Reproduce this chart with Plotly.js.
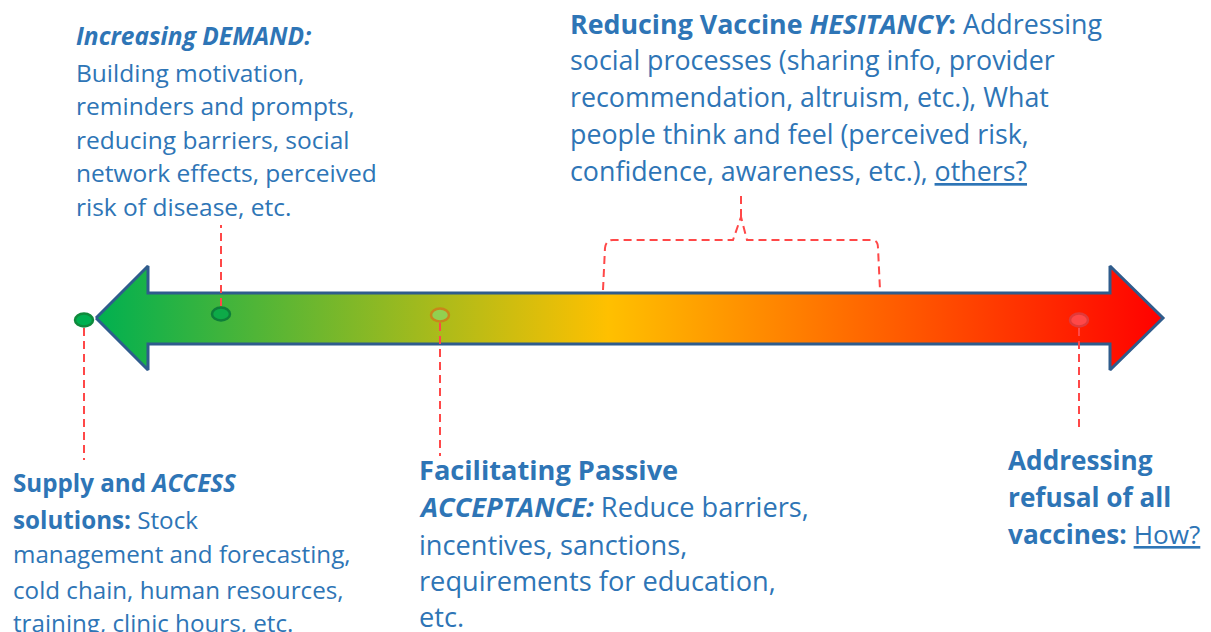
<!DOCTYPE html>
<html>
<head>
<meta charset="utf-8">
<script src="https://cdn.plot.ly/plotly-3.0.1.min.js"></script>
<style>html,body{margin:0;padding:0;background:#fff;}#chart{width:1211px;height:632px;}</style>
</head>
<body>
<div id="chart"></div>
<script>
// ---- Continuum arrow (pixel-space coordinates of the diagram) ----
var arrowX = [96, 148, 148, 1110, 1110, 1163, 1110, 1110, 148, 148, 96];
var arrowY = [318, 266, 293, 293, 266, 318, 370, 344, 344, 370, 318];
var gradientStops = [[0, '#00B050'], [0.48, '#FFC000'], [1, '#FF0000']];

// ---- Markers along the continuum ----
var dotX = [84, 221, 440, 1079];
var dotY = [320, 314, 315, 320];
var dotFill = ['#00B050', '#0DAA48', '#92D050', '#FF4848'];
var dotLine = ['#0F8A3C', '#0E7E3A', '#C9861A', '#E03A3A'];

// ---- Dashed leader lines [x, yStart, yEnd] ----
var leaderX = [84, 221, 440, 1079];
var leaderY0 = [328, 306, 323, 328];
var leaderY1 = [460, 225, 456, 432];

// ---- Brace over the hesitancy range ----
var braceLeft = 603, braceRight = 880, braceBase = 290, braceTop = 240, braceMid = 741, bracePeak = 217, braceStem = 193;

// ---- Text blocks ----
var demandLines = ['<b><i>Increasing DEMAND:</i></b>', 'Building motivation,', 'reminders and prompts,', 'reducing barriers, social', 'network effects, perceived', 'risk of disease, etc.'];
var demandY = [35, 72, 105, 139, 172, 206];
var demandX = 75;

var hesitancyLines = ['<b>Reducing Vaccine <i>HESITANCY</i>:</b> Addressing', 'social processes (sharing info, provider', 'recommendation, altruism, etc.), What', 'people think and feel (perceived risk,', 'confidence, awareness, etc.), <u>others?</u>'];
var hesitancyY = [23, 59, 96, 133, 170];
var hesitancyX = 569;

var accessLines = ['<b>Supply and <i>ACCESS</i></b>', '<b>solutions:</b> Stock', 'management and forecasting,', 'cold chain, human resources,', 'training, clinic hours, etc.'];
var accessY = [482, 519, 553, 589, 622];
var accessX = 12;

var acceptLines = ['<b>Facilitating Passive</b>', '<b><i>ACCEPTANCE:</i></b> Reduce barriers,', 'incentives, sanctions,', 'requirements for education,', 'etc.'];
var acceptY = [469, 506, 544, 580, 616];
var acceptX = 418;

var refusalLines = ['<b>Addressing</b>', '<b>refusal of all</b>', '<b>vaccines:</b> <u>How?</u>'];
var refusalY = [460, 497, 534];
var refusalX = 1007;

var textColor = '#2E75B6';
var fontFamily = '"Open Sans", "Noto Sans", sans-serif';

var shapes = [];
var red = '#FF4848';
for (var i = 0; i < leaderX.length; i++) {
  shapes.push({type: 'line', xref: 'x', yref: 'y', x0: leaderX[i], x1: leaderX[i], y0: leaderY0[i], y1: leaderY1[i],
    line: {color: red, width: 2, dash: '8px,5px'}});
}
var bracePath = 'M' + braceLeft + ',' + braceBase +
  ' L' + (braceLeft + 2) + ',' + (braceTop + 8) +
  ' Q' + (braceLeft + 3) + ',' + braceTop + ' ' + (braceLeft + 10) + ',' + braceTop +
  ' L' + (braceMid - 8) + ',' + braceTop +
  ' L' + braceMid + ',' + bracePeak +
  ' L' + (braceMid + 6) + ',' + braceTop +
  ' L' + (braceRight - 8) + ',' + braceTop +
  ' Q' + (braceRight - 2) + ',' + braceTop + ' ' + (braceRight - 2) + ',' + (braceTop + 8) +
  ' L' + braceRight + ',' + braceBase;
shapes.push({type: 'path', xref: 'x', yref: 'y', path: bracePath, line: {color: red, width: 2, dash: '8px,5px'}});
shapes.push({type: 'line', xref: 'x', yref: 'y', x0: braceMid, x1: braceMid, y0: bracePeak, y1: braceStem,
  line: {color: red, width: 2, dash: '8px,5px'}});

var dotW = 18, dotH = 13;
for (var j = 0; j < dotX.length; j++) {
  shapes.push({type: 'circle', xref: 'x', yref: 'y', layer: 'above',
    x0: dotX[j] - dotW / 2, x1: dotX[j] + dotW / 2, y0: dotY[j] - dotH / 2, y1: dotY[j] + dotH / 2,
    fillcolor: dotFill[j], line: {color: dotLine[j], width: 2.5}});
}

var annotations = [];
function addBlock(lines, ys, x, size) {
  for (var k = 0; k < lines.length; k++) {
    annotations.push({xref: 'x', yref: 'y', x: x, y: ys[k], text: lines[k], showarrow: false,
      xanchor: 'left', yanchor: 'middle', align: 'left', borderpad: 0,
      font: {family: fontFamily, size: size, color: textColor}});
  }
}
addBlock(demandLines, demandY, demandX, 24.5);
addBlock(hesitancyLines, hesitancyY, hesitancyX, 26.8);
addBlock(accessLines, accessY, accessX, 24.2);
addBlock(acceptLines, acceptY, acceptX, 27.2);
addBlock(refusalLines, refusalY, refusalX, 26.2);

var arrowTrace = {
  type: 'scatter', mode: 'lines', x: arrowX, y: arrowY, fill: 'toself',
  fillgradient: {type: 'horizontal', colorscale: gradientStops},
  line: {color: '#2F5C8C', width: 3}, hoverinfo: 'skip', showlegend: false
};

var layout = {
  width: 1211, height: 632,
  margin: {l: 0, r: 0, t: 0, b: 0},
  paper_bgcolor: '#ffffff', plot_bgcolor: '#ffffff',
  xaxis: {range: [0, 1211], visible: false, fixedrange: true},
  yaxis: {range: [632, 0], visible: false, fixedrange: true},
  shapes: shapes, annotations: annotations, showlegend: false
};

Plotly.newPlot('chart', [arrowTrace], layout, {displayModeBar: false, staticPlot: true});
</script>
</body>
</html>
